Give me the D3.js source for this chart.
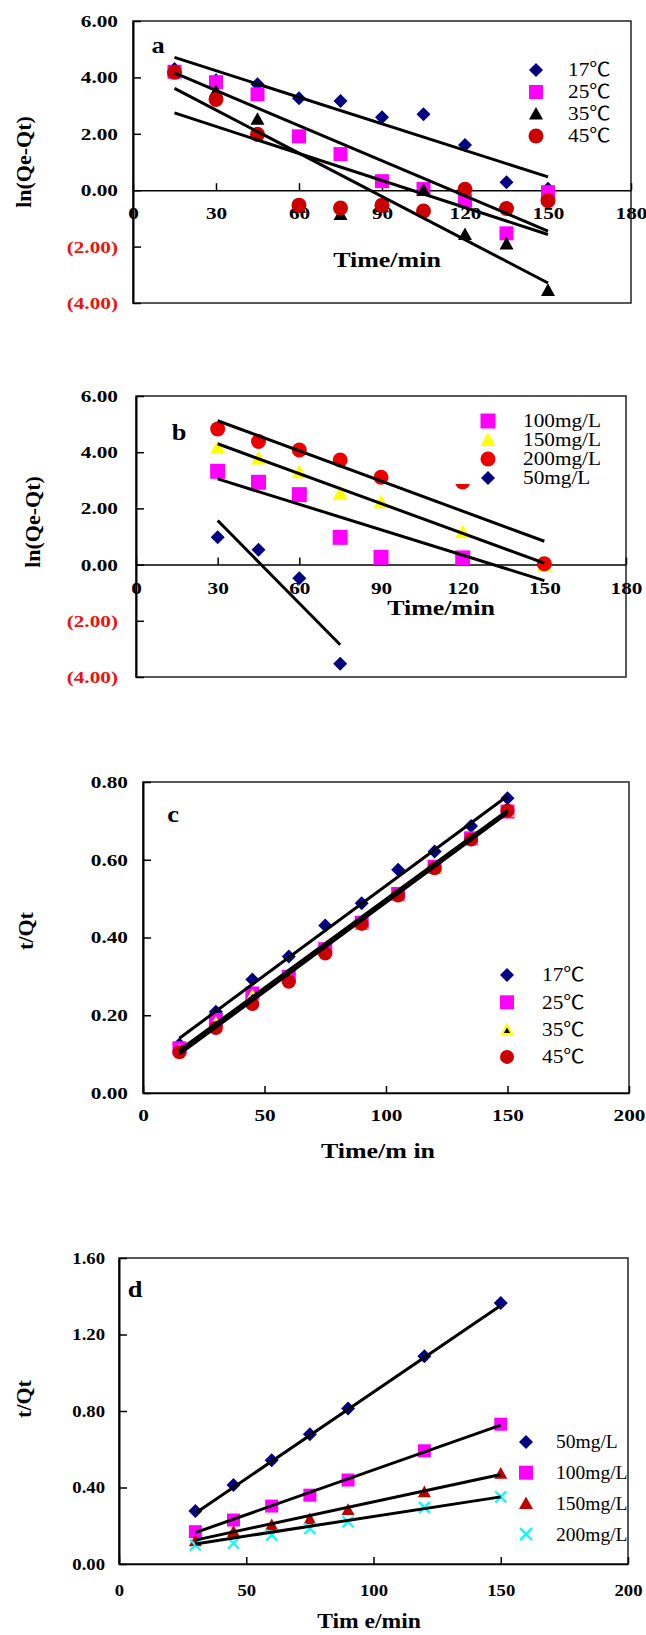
<!DOCTYPE html>
<html><head><meta charset="utf-8">
<script src="https://cdn.jsdelivr.net/npm/d3@7"></script>
<style>body{margin:0;background:#fff}svg{display:block}</style>
</head><body><svg id="chart" width="646" height="1635"></svg>
<script>
// ---------- DATA ----------
// Panel a : ln(Qe-Qt) vs time, temperatures
const timeA = [15,30,45,60,75,90,105,120,135,150];
const seriesA = ["17℃","25℃","35℃","45℃"];
const a17 = [4.30,3.90,3.76,3.26,3.16,2.59,2.69,1.60,0.28,0.05];
const a25 = [4.20,3.83,3.40,1.91,1.28,0.32,0.04,-0.37,-1.53,-0.07];
const a35 = [4.25,3.51,2.52,-0.60,-0.86,-0.58,0.00,-1.57,-1.90,-3.55];
const a45 = [4.18,3.22,1.98,-0.53,-0.63,-0.53,-0.74,0.03,-0.65,-0.37];
const fitXA = [15,150];
const fitA17 = [4.71,0.47], fitA25 = [4.16,-1.45], fitA35 = [3.61,-3.29], fitA45 = [2.74,-1.57];
const xTicksA = [0,30,60,90,120,150,180];
const yTicksA = [-4,-2,0,2,4,6];

// Panel b : ln(Qe-Qt) vs time, concentrations
const timeB = [30,45,60,75,90,120,150];
const timeB50 = [30,45,60,75];
const seriesB = ["100mg/L","150mg/L","200mg/L","50mg/L"];
const b100 = [3.32,2.93,2.49,0.97,0.26,0.24];
const b150 = [4.17,3.78,3.29,2.52,2.22,1.15,-0.05];
const b200 = [4.83,4.38,4.08,3.72,3.11,2.94,0.03];
const b50 = [0.97,0.53,-0.49,-3.53];
const fitXB = [30,150], fitXB50 = [30,75];
const fitB100 = [3.05,-0.57], fitB150 = [4.30,0.05], fitB200 = [5.12,0.83], fitB50 = [1.57,-2.85];
const xTicksB = [0,30,60,90,120,150,180];
const yTicksB = [-4,-2,0,2,4,6];

// Panel c : t/Qt vs time, temperatures
const timeC = [15,30,45,60,75,90,105,120,135,150];
const seriesC = ["17℃","25℃","35℃","45℃"];
const c17 = [0.125,0.209,0.292,0.351,0.431,0.488,0.574,0.621,0.687,0.758];
const c25 = [0.115,0.188,0.256,0.299,0.370,0.438,0.512,0.582,0.655,0.724];
const c35 = [0.110,0.180,0.250,0.295,0.365,0.437,0.510,0.580,0.654,0.725];
const c45 = [0.105,0.167,0.229,0.286,0.359,0.435,0.508,0.578,0.652,0.726];
const fitXC = [15,150];
const fitC17 = [0.141,0.764], fitC25 = [0.110,0.727], fitC35 = [0.106,0.724], fitC45 = [0.100,0.720];
const xTicksC = [0,50,100,150,200];
const yTicksC = [0,0.2,0.4,0.6,0.8];

// Panel d : t/Qt vs time, concentrations
const timeD = [30,45,60,75,90,120,150];
const seriesD = ["50mg/L","100mg/L","150mg/L","200mg/L"];
const d50 = [0.277,0.413,0.543,0.679,0.813,1.086,1.365];
const d100 = [0.169,0.230,0.303,0.360,0.439,0.592,0.731];
const d150 = [0.120,0.169,0.204,0.235,0.284,0.376,0.473];
const d200 = [0.099,0.108,0.151,0.186,0.221,0.296,0.351];
const fitXD = [30,150];
const fitD50 = [0.265,1.352], fitD100 = [0.164,0.726], fitD150 = [0.125,0.468], fitD200 = [0.105,0.351];
const xTicksD = [0,50,100,150,200];
const yTicksD = [0,0.4,0.8,1.2,1.6];

// ---------- DRAWING ----------
const FONT = '"Liberation Serif","Times New Roman",serif';
const svg = d3.select("#chart");

function shapePath(type, r) {
  if (type === "diamond") return `M0,${-r}L${r},0L0,${r}L${-r},0Z`;
  if (type === "square") return `M${-r},${-r}H${r}V${r}H${-r}Z`;
  if (type === "triangle") return `M0,${-r}L${r},${r*0.8}L${-r},${r*0.8}Z`;
  if (type === "circle") return `M${-r},0A${r},${r} 0 1,0 ${r},0A${r},${r} 0 1,0 ${-r},0Z`;
  if (type === "cross") return `M${-r},${-r}L${r},${r}M${-r},${r}L${r},${-r}`;
}
function drawMarker(g, type, color, r, cx, cy, inner) {
  const p = g.append("path").attr("d", shapePath(type, r)).attr("transform", `translate(${cx},${cy})`);
  if (type === "cross") p.attr("fill","none").attr("stroke",color).attr("stroke-width",2.2);
  else p.attr("fill",color);
  if (inner) g.append("path").attr("d", shapePath("triangle", r*0.45)).attr("transform", `translate(${cx},${cy+1})`).attr("fill", inner);
}
function stretchedText(g, txt, x, y, size, sx, opts) {
  opts = opts || {};
  const t = g.append("text").text(txt)
    .attr("transform", `translate(${x},${y}) ${opts.rotate ? "rotate(-90)" : ""} scale(${sx},1)`)
    .attr("font-family", opts.family || FONT).attr("font-size", size)
    .attr("font-weight", opts.bold === false ? "normal" : "bold")
    .attr("text-anchor", opts.anchor || "middle").attr("fill", opts.fill || "#000");
  if (opts.dy) t.attr("dy", opts.dy);
  return t;
}

function panel(cfg) {
  const x = d3.scaleLinear().domain(cfg.xDomain).range([cfg.left, cfg.right]);
  const y = d3.scaleLinear().domain(cfg.yDomain).range([cfg.bottom, cfg.top]);
  const g = svg.append("g");

  g.append("rect").attr("x", cfg.left).attr("y", cfg.top)
    .attr("width", cfg.right - cfg.left).attr("height", cfg.bottom - cfg.top)
    .attr("fill", "none").attr("stroke", "#222").attr("stroke-width", 1.5);

  // y axis
  const ya = g.append("g").attr("transform", `translate(${cfg.left},0)`)
    .call(d3.axisLeft(y).tickValues(cfg.yTicks).tickSizeInner(-8).tickSizeOuter(0)
      .tickPadding(cfg.yGap / cfg.tsx).tickFormat(cfg.yFmt));
  ya.select(".domain").attr("stroke", "#000").attr("stroke-width", 2);
  ya.selectAll(".tick line").attr("stroke", "#000").attr("stroke-width", 1.5);
  ya.selectAll("text").attr("font-family", FONT).attr("font-weight", "bold").attr("font-size", cfg.tfs)
    .attr("fill", d => d < 0 ? "#ee1111" : "#000").attr("transform", `scale(${cfg.tsx},1)`);

  // x axis (at y = 0)
  const xa = g.append("g").attr("transform", `translate(0,${y(0)})`)
    .call(d3.axisBottom(x).tickValues(cfg.xTicks).tickSizeInner(-7).tickSizeOuter(0)
      .tickPadding(cfg.xPad).tickFormat(d3.format("d")));
  xa.select(".domain").attr("stroke", "#000").attr("stroke-width", 1.5);
  xa.selectAll(".tick line").attr("stroke", "#000").attr("stroke-width", 1.5);
  xa.selectAll("text").attr("font-family", FONT).attr("font-weight", "bold").attr("font-size", cfg.tfs)
    .attr("transform", `scale(${cfg.tsx},1)`);

  // markers
  cfg.series.forEach(s => {
    s.values.forEach((v, i) => {
      drawMarker(g, s.shape, s.color, s.r, x(s.times[i]), y(v), s.inner);
    });
  });
  // trend lines
  cfg.fits.forEach(f => {
    g.append("line").attr("x1", x(f.xs[0])).attr("x2", x(f.xs[1]))
      .attr("y1", y(f.ys[0])).attr("y2", y(f.ys[1]))
      .attr("stroke", "#000").attr("stroke-width", f.w || 3);
  });
  // legend
  const L = cfg.legend;
  if (L.bg) g.append("rect").attr("x", L.bg[0]).attr("y", L.bg[1]).attr("width", L.bg[2]).attr("height", L.bg[3]).attr("fill", "#fff");
  L.items.forEach((s, i) => {
    const cy = L.y0 + i * L.dy;
    drawMarker(g, s.shape, s.color, s.r, L.mx, cy, s.inner);
    stretchedText(g, s.name, L.tx, cy + L.fs * 0.33, L.fs, L.sx, {bold: false, anchor: "start",
      family: '"Liberation Serif","Times New Roman","Noto Sans CJK SC",serif'});
  });
  // panel letter & titles
  stretchedText(g, cfg.letter, cfg.letterPos[0], cfg.letterPos[1], 24, 1.1, {});
  stretchedText(g, cfg.xTitle, cfg.xTitlePos[0], cfg.xTitlePos[1], cfg.xTitleSize || 22, 1.18, {});
  stretchedText(g, cfg.yTitle, cfg.yTitlePos[0], cfg.yTitlePos[1], 22, 1.0, {rotate: true, dy: "0.35em"});
}

const fmtParen = d => d < 0 ? `(${Math.abs(d).toFixed(2)})` : d.toFixed(2);
const fmt2 = d => d.toFixed(2);

// Panel a
panel({
  left: 133, right: 631, top: 21, bottom: 303, xDomain: [0,180], yDomain: [-4,6],
  xTicks: xTicksA, yTicks: yTicksA, yFmt: fmtParen, tfs: 17, tsx: 1.25, yGap: 15, xPad: 17,
  series: [
    {name: seriesA[0], times: timeA, values: a17, shape: "diamond", color: "#000080", r: 7},
    {name: seriesA[1], times: timeA, values: a25, shape: "square", color: "#ff00ff", r: 7},
    {name: seriesA[2], times: timeA, values: a35, shape: "triangle", color: "#000", r: 7},
    {name: seriesA[3], times: timeA, values: a45, shape: "circle", color: "#cc0000", r: 7.5}
  ],
  fits: [
    {xs: fitXA, ys: fitA17}, {xs: fitXA, ys: fitA25}, {xs: fitXA, ys: fitA35}, {xs: fitXA, ys: fitA45}
  ],
  legend: {mx: 536, tx: 568, y0: 70, dy: 22, fs: 19, sx: 1.12, items: [
    {name: seriesA[0], shape: "diamond", color: "#000080", r: 7},
    {name: seriesA[1], shape: "square", color: "#ff00ff", r: 7},
    {name: seriesA[2], shape: "triangle", color: "#000", r: 7},
    {name: seriesA[3], shape: "circle", color: "#cc0000", r: 7.5}
  ]},
  letter: "a", letterPos: [158, 53],
  xTitle: "Time/min", xTitlePos: [387, 267],
  yTitle: "ln(Qe-Qt)", yTitlePos: [23, 162]
});

// Panel b
panel({
  left: 136, right: 626, top: 396, bottom: 677, xDomain: [0,180], yDomain: [-4,6],
  xTicks: xTicksB, yTicks: yTicksB, yFmt: fmtParen, tfs: 17, tsx: 1.25, yGap: 18, xPad: 17,
  series: [
    {name: seriesB[3], times: timeB50, values: b50, shape: "diamond", color: "#000080", r: 7},
    {name: seriesB[0], times: timeB, values: b100, shape: "square", color: "#ff00ff", r: 7.5},
    {name: seriesB[1], times: timeB, values: b150, shape: "triangle", color: "#ffff00", r: 7.5},
    {name: seriesB[2], times: timeB, values: b200, shape: "circle", color: "#ee0000", r: 7.5}
  ],
  fits: [
    {xs: fitXB, ys: fitB200}, {xs: fitXB, ys: fitB150}, {xs: fitXB, ys: fitB100}, {xs: fitXB50, ys: fitB50}
  ],
  legend: {mx: 488, tx: 523, y0: 421, dy: 19, fs: 19, sx: 1.12, bg: [450, 404, 172, 80], items: [
    {name: seriesB[0], shape: "square", color: "#ff00ff", r: 7.5},
    {name: seriesB[1], shape: "triangle", color: "#ffff00", r: 7.5},
    {name: seriesB[2], shape: "circle", color: "#ee0000", r: 7.5},
    {name: seriesB[3], shape: "diamond", color: "#000080", r: 7}
  ]},
  letter: "b", letterPos: [179, 440],
  xTitle: "Time/min", xTitlePos: [441, 615],
  yTitle: "ln(Qe-Qt)", yTitlePos: [32, 522]
});

// Panel c
panel({
  left: 143, right: 629, top: 782, bottom: 1093, xDomain: [0,200], yDomain: [0,0.8],
  xTicks: xTicksC, yTicks: yTicksC, yFmt: fmt2, tfs: 17, tsx: 1.25, yGap: 15, xPad: 16,
  series: [
    {name: seriesC[0], times: timeC, values: c17, shape: "diamond", color: "#000080", r: 7},
    {name: seriesC[1], times: timeC, values: c25, shape: "square", color: "#ff00ff", r: 7},
    {name: seriesC[2], times: timeC, values: c35, shape: "triangle", color: "#ffff00", r: 7, inner: "#000"},
    {name: seriesC[3], times: timeC, values: c45, shape: "circle", color: "#cc0000", r: 7}
  ],
  fits: [
    {xs: fitXC, ys: fitC17}, {xs: fitXC, ys: fitC25}, {xs: fitXC, ys: fitC35}, {xs: fitXC, ys: fitC45}
  ],
  legend: {mx: 507, tx: 542, y0: 975, dy: 27.3, fs: 19, sx: 1.12, items: [
    {name: seriesC[0], shape: "diamond", color: "#000080", r: 7},
    {name: seriesC[1], shape: "square", color: "#ff00ff", r: 7},
    {name: seriesC[2], shape: "triangle", color: "#ffff00", r: 7, inner: "#000"},
    {name: seriesC[3], shape: "circle", color: "#cc0000", r: 7}
  ]},
  letter: "c", letterPos: [173, 822],
  xTitle: "Time/m in", xTitlePos: [378, 1158],
  yTitle: "t/Qt", yTitlePos: [25, 931]
});

// Panel d
panel({
  left: 119, right: 628, top: 1258, bottom: 1564, xDomain: [0,200], yDomain: [0,1.6],
  xTicks: xTicksD, yTicks: yTicksD, yFmt: fmt2, tfs: 17, tsx: 1.1, yGap: 14, xPad: 20,
  series: [
    {name: seriesD[0], times: timeD, values: d50, shape: "diamond", color: "#000080", r: 7},
    {name: seriesD[1], times: timeD, values: d100, shape: "square", color: "#ff00ff", r: 6.5},
    {name: seriesD[2], times: timeD, values: d150, shape: "triangle", color: "#c00000", r: 6.5},
    {name: seriesD[3], times: timeD, values: d200, shape: "cross", color: "#00ffff", r: 5.5}
  ],
  fits: [
    {xs: fitXD, ys: fitD50}, {xs: fitXD, ys: fitD100}, {xs: fitXD, ys: fitD150}, {xs: fitXD, ys: fitD200}
  ],
  legend: {mx: 526, tx: 556, y0: 1442, dy: 30.7, fs: 19.5, sx: 1.0, items: [
    {name: seriesD[0], shape: "diamond", color: "#000080", r: 7},
    {name: seriesD[1], shape: "square", color: "#ff00ff", r: 7},
    {name: seriesD[2], shape: "triangle", color: "#c00000", r: 7},
    {name: seriesD[3], shape: "cross", color: "#00ffff", r: 6}
  ]},
  letter: "d", letterPos: [135, 1297],
  xTitle: "Tim e/min", xTitlePos: [369, 1628], xTitleSize: 20,
  yTitle: "t/Qt", yTitlePos: [23, 1399]
});
</script>
</body></html>
